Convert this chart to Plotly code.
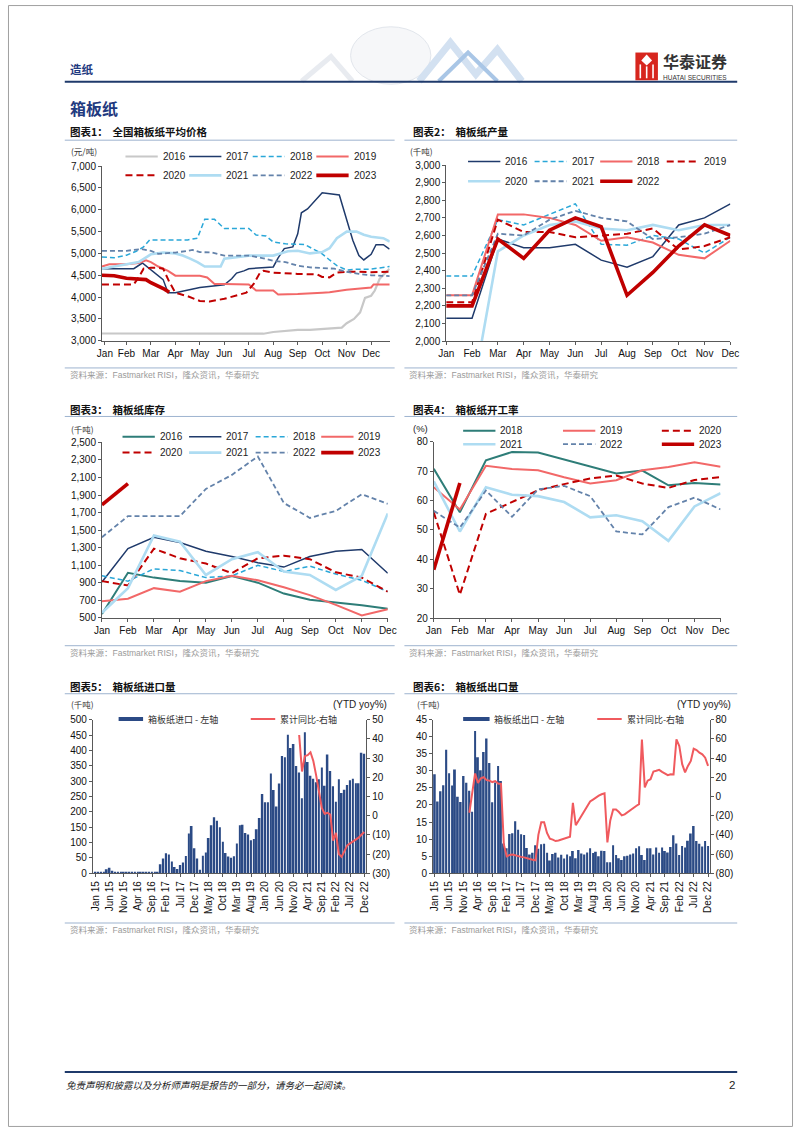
import plotly.graph_objects as go

W, H = 802, 1133
FONT = "Liberation Sans, Arial, Noto Sans CJK SC, sans-serif"
CJK = "Noto Sans CJK SC, Liberation Sans, sans-serif"

MONTHS = ["Jan", "Feb", "Mar", "Apr", "May", "Jun", "Jul", "Aug", "Sep", "Oct", "Nov", "Dec"]
MPOS = [0, 1, 2, 3, 4, 5, 6, 7, 8, 9, 10, 11]

# ---------------- Chart 1: price (RMB/t), x in months from Jan ----------------
c1_2016_x = [0, 1, 2, 3, 4, 5, 6, 6.6, 7, 7.5, 8, 8.5, 9, 9.5, 9.8, 10, 10.3, 10.55, 10.75, 11.0, 11.15, 11.35, 11.75]
c1_2016_y = [3165, 3165, 3170, 3175, 3175, 3170, 3170, 3160, 3200, 3230, 3250, 3250, 3270, 3280, 3300, 3400, 3500, 3650, 3980, 4030, 4150, 4420, 4650]
c1_2017_x = [0, 1, 1.3, 1.65, 2.0, 2.3, 2.5, 2.7, 3.0, 4.0, 5.0, 5.3, 5.5, 5.8, 6.0, 7.0, 7.2, 7.45, 7.8, 8.0, 8.15, 8.4, 8.75, 9.0, 9.7, 10.0, 10.25, 10.5, 10.7, 11.0, 11.2, 11.5, 11.75]
c1_2017_y = [4650, 4650, 4650, 4780, 4620, 4500, 4400, 4100, 4100, 4220, 4280, 4420, 4550, 4600, 4650, 4690, 4900, 5110, 5150, 5450, 5930, 6020, 6250, 6390, 6340, 5800, 5300, 4950, 4850, 4980, 5200, 5200, 5100]
c1_2018_x = [0, 0.5, 1.0, 1.4, 1.7, 1.95, 2.5, 3.0, 3.5, 3.9, 4.0, 4.2, 4.6, 5.0, 5.5, 6.0, 6.3, 6.7, 7.0, 7.5, 8.0, 8.3, 8.7, 9.0, 9.3, 9.6, 10.0, 10.5, 11.0, 11.5, 11.76]
c1_2018_y = [4920, 4900, 4960, 5050, 5150, 5310, 5310, 5310, 5310, 5350, 5500, 5780, 5780, 5570, 5570, 5570, 5420, 5400, 5260, 5220, 5210, 5200, 5080, 4990, 4850, 4720, 4620, 4640, 4640, 4680, 4700]
c1_2019_x = [0, 0.3, 1.0, 1.5, 1.8, 2.0, 2.3, 2.7, 3.0, 3.5, 4.0, 4.3, 4.6, 5.0, 6.0, 6.3, 7.0, 7.2, 8.0, 9.0, 9.3, 10.0, 11.0, 11.1, 11.76]
c1_2019_y = [4700, 4750, 4750, 4780, 4840, 4800, 4700, 4600, 4490, 4490, 4490, 4450, 4300, 4300, 4290, 4150, 4150, 4060, 4070, 4100, 4110, 4170, 4220, 4290, 4290]
c1_2020_x = [0, 1.3, 1.5, 1.7, 2.0, 2.3, 2.5, 2.75, 3.0, 3.5, 4.0, 4.4, 5.0, 5.4, 5.9, 6.2, 6.45, 6.6, 7.0, 8.0, 8.8, 9.0, 9.3, 9.6, 10.0, 10.5, 11.0, 11.76]
c1_2020_y = [4290, 4290, 4450, 4650, 4670, 4670, 4650, 4350, 4100, 4020, 3910, 3900, 3960, 4020, 4100, 4300, 4550, 4600, 4560, 4530, 4520, 4460, 4450, 4560, 4580, 4580, 4570, 4580]
c1_2021_x = [0, 0.5, 1.0, 1.5, 2.0, 2.5, 3.0, 3.3, 3.6, 3.9, 4.2, 4.6, 4.85, 5.0, 6.0, 7.0, 7.6, 8.0, 8.5, 9.0, 9.3, 9.6, 10.0, 10.4, 10.7, 11.0, 11.5, 11.76]
c1_2021_y = [4650, 4700, 4760, 4800, 4980, 5020, 5000, 4950, 4880, 4800, 4700, 4700, 4700, 4880, 4950, 4950, 5050, 5060, 5000, 5030, 5120, 5350, 5500, 5500, 5430, 5380, 5350, 5270]
c1_2022_x = [0, 1.0, 1.6, 2.0, 2.3, 3.0, 3.5, 3.7, 4.0, 4.5, 5.0, 6.0, 6.5, 7.0, 7.5, 8.0, 8.5, 9.0, 9.5, 10.0, 10.5, 11.0, 11.76]
c1_2022_y = [5060, 5060, 5100, 5060, 4990, 5020, 5060, 5080, 5030, 5020, 4950, 4950, 4900, 4830, 4800, 4720, 4680, 4670, 4650, 4580, 4530, 4500, 4480]
c1_2023_x = [0, 0.5, 1.0, 1.5, 1.8, 2.0, 2.3, 2.55, 2.75]
c1_2023_y = [4500, 4490, 4430, 4410, 4400, 4330, 4260, 4180, 4110]

# ---------------- Chart 2: output (kt) ----------------
c2_2016 = [2130, 2130, 2580, 2530, 2530, 2550, 2460, 2420, 2480, 2660, 2700, 2780]
c2_2017 = [2370, 2370, 2690, 2660, 2720, 2780, 2550, 2545, 2600, 2580, 2500, 2590]
c2_2018 = [2260, 2260, 2720, 2720, 2700, 2660, 2570, 2590, 2560, 2490, 2470, 2570]
c2_2019 = [2220, 2220, 2690, 2620, 2620, 2590, 2600, 2610, 2640, 2520, 2540, 2590]
c2_2020 = [1800, 1690, 2510, 2600, 2660, 2680, 2640, 2630, 2660, 2630, 2660, 2660]
c2_2021 = [2260, 2260, 2610, 2600, 2690, 2740, 2700, 2680, 2580, 2590, 2610, 2660]
c2_2022 = [2200, 2200, 2580, 2470, 2630, 2700, 2650, 2260, 2390, 2540, 2660, 2600]

# ---------------- Chart 3: inventory (kt) ----------------
c3_2016 = [545, 1015, 960, 921, 902, 978, 902, 778, 707, 677, 645, 605]
c3_2017 = [910, 1290, 1420, 1360, 1260, 1200, 1130, 1080, 1200, 1260, 1280, 1010]
c3_2018 = [980, 920, 1060, 1040, 960, 980, 1100, 1030, 1090, 1000, 930, 800]
c3_2019 = [690, 720, 840, 800, 920, 980, 930, 850, 760, 650, 530, 600]
c3_2020 = [920, 870, 1290, 1180, 1120, 1010, 1180, 1210, 1170, 1020, 960, 800]
c3_2021 = [560, 840, 1440, 1370, 990, 1170, 1250, 1030, 990, 820, 980, 1690]
c3_2022 = [1420, 1660, 1660, 1660, 1970, 2130, 2340, 1810, 1640, 1720, 1910, 1800]
c3_2023 = [1790, 2030]

# ---------------- Chart 4: operating rate (%) ----------------
c4_2018 = [70.8, 56, 73.7, 76.5, 76.3, 74, 71.5, 69.2, 70.2, 65.2, 66, 65.5]
c4_2019 = [64.5, 57, 71.8, 70.7, 70.3, 67.9, 65.8, 66.9, 70.3, 71.4, 73, 71.5]
c4_2020 = [56, 28, 55.5, 59.6, 63.5, 65.6, 67.5, 68.5, 65.8, 64.3, 67, 68]
c4_2021 = [66.5, 49.5, 64.5, 62, 61.5, 59.5, 54.3, 55, 53, 46.3, 58, 62.5]
c4_2022 = [56.5, 50.8, 63.4, 54.5, 63.8, 65, 61.5, 49.5, 48.5, 57.8, 61, 57]
c4_2023 = [36.5, 66]

# ---------------- Chart 5 / 6: monthly Jan 15 - Dec 22 ----------------
TRADE_TICK_POS = [0, 5, 10, 15, 20, 25, 30, 35, 40, 45, 50, 55, 60, 65, 70, 75, 80, 85, 90, 95]
TRADE_TICKS = ["Jan 15", "Jun 15", "Nov 15", "Apr 16", "Sep 16", "Feb 17", "Jul 17", "Dec 17",
               "May 18", "Oct 18", "Mar 19", "Aug 19", "Jan 20", "Jun 20", "Nov 20", "Apr 21",
               "Sep 21", "Feb 22", "Jul 22", "Dec 22"]

imports_kt = [
    3, 3, 5, 5, 13, 18, 8, 5, 3, 5, 3, 5,
    3, 5, 3, 5, 3, 4, 5, 4, 4, 5, 3, 29,
    48, 65, 61, 38, 20, 14, 27, 35, 56, 129, 154, 81,
    48, 11, 57, 67, 115, 156, 182, 171, 150, 102, 66, 54,
    50, 55, 97, 156, 158, 131, 126, 107, 111, 143, 180, 258,
    231, 231, 325, 271, 217, 292, 382, 378, 451, 408, 421, 349,
    328, 244, 459, 362, 317, 308, 296, 306, 344, 285, 387, 333,
    283, 233, 306, 261, 272, 287, 303, 308, 293, 293, 392, 389]
imports_yoy = [None] * 72 + [
    42, 23, 31, 31.5, 33, 28.5, 21, 13, 4, 1, 1.5, 0.5,
    -13, -9, -20, -21.5, -18.5, -15.5, -14.5, -13.5, -12.5, -11.5, -10, -8.5]

exports_kt = [
    29, 21, 24, 25.8, 36.2, 29.3, 25.7, 30.4, 22.4, 20.9, 28.5, 26.5,
    24.2, 18, 41.7, 34, 30.2, 35.5, 39.5, 32.3, 20.8, 26.6, 31.4, 27,
    8.7, 7.3, 11.5, 11.7, 15.2, 12.7, 11.4, 11.2, 7.4, 5.5, 6.0, 8.2,
    7.2, 8.5, 8.6, 6.0, 3.7, 5.6, 6.0, 4.6, 5.4, 4.3, 5.5, 5.0,
    6.5, 4.4, 6.8, 5.8, 5.5, 6.1, 7.3, 5.9, 6.3, 5.0, 6.6, 6.5,
    3.2, 3.2, 8.2, 5.3, 4.4, 3.9, 5.0, 5.1, 5.5, 5.8, 7.3, 7.9,
    5.3, 3.9, 7.3, 7.3, 5.5, 7.5, 6.0, 7.5, 6.5, 6.1, 7.7, 11.1,
    8.7, 5.3, 8.0, 7.5, 9.5, 11.6, 13.8, 9.4, 8.6, 7.8, 9.4, 8.0]
exports_yoy = [None] * 12 + [
    -17, 5, 24, 14, 19, 20, 17, 16.5, 15, 16, 13.5, 13,
    -50, -62.5, -61, -60.5, -61.5, -62.5, -63, -63.5, -64.5, -65.5, -66, -66.5,
    -40, -27, -27, -38, -44, -45, -46.5, -46, -45, -43.5, -43, -42,
    -6.7, -30, -25, -20, -14.6, -10, -5.3, -3.3, -0.8, 0.9, 2.3, 3.3,
    -48, -25, -13.6, -13.6, -16.3, -19.8, -18.7, -16.3, -14.6, -12.2, -10, -8,
    59.4, 9.5, 16.4, 18, 26, 26.7, 27.7, 25.6, 24, 22.2, 23.2, 23,
    59.4, 52.5, 33.6, 25, 31.8, 37, 49.7, 48.4, 45.6, 43.9, 40.4, 31.8]
MONTH_IDX = list(range(len(imports_kt)))

# ---------------- styles ----------------
NAVY = "#1F3A6B"
CYAN = "#2AA7D8"
SALMON = "#F26868"
DRED = "#C00000"
LBLUE = "#AEDCF2"
GBLUE = "#6382AA"
GRAY = "#C8C8C8"
TEAL = "#2E7D78"
DASH = "5px,3px"
RDASH = "7px,4px"

S = {
    "gray": (GRAY, 2.2, None), "navy": (NAVY, 1.5, None), "cyan": (CYAN, 1.5, DASH),
    "salmon": (SALMON, 2.0, None), "rdash": (DRED, 2.0, RDASH), "lblue": (LBLUE, 2.6, None),
    "gdash": (GBLUE, 1.8, DASH), "red": (DRED, 3.6, None), "teal": (TEAL, 2.0, None),
}


def px(x):
    return x / W


def py(y):
    return 1 - y / H


fig = go.Figure()
shapes = []
annots = []


def line_trace(x, y, xa, ya, style):
    c, w, d = S[style]
    fig.add_trace(go.Scatter(x=x, y=y, xaxis=xa, yaxis=ya, mode="lines",
                             line=dict(color=c, width=w, dash=d), showlegend=False,
                             hoverinfo="skip", connectgaps=False))


def txt(x, y, s, size=10, color="#222", anchor="left", family=FONT, yanchor="middle"):
    annots.append(dict(x=px(x), y=py(y), xref="paper", yref="paper", text=s, showarrow=False,
                       xanchor=anchor, yanchor=yanchor, font=dict(size=size, color=color, family=family),
                       borderpad=0))


def seg(x0, y0, x1, y1, color, width=1, dash=None):
    ln = dict(color=color, width=width)
    if dash:
        ln["dash"] = dash
    shapes.append(dict(type="line", xref="paper", yref="paper", x0=px(x0), y0=py(y0),
                       x1=px(x1), y1=py(y1), line=ln))


def rect(x0, y0, x1, y1, fill, line_color=None, lw=0):
    shapes.append(dict(type="rect", xref="paper", yref="paper", x0=px(x0), y0=py(y0),
                       x1=px(x1), y1=py(y1), fillcolor=fill,
                       line=dict(color=line_color or fill, width=lw)))


def legend_item(x, y, style, label, length=33):
    c, w, d = S[style]
    seg(x, y, x + length, y, c, w, d)
    txt(x + length + 4, y, label, size=10, color="#222")


# ---------------- traces ----------------
line_trace(c1_2016_x, c1_2016_y, "x", "y", "gray")
line_trace(c1_2017_x, c1_2017_y, "x", "y", "navy")
line_trace(c1_2018_x, c1_2018_y, "x", "y", "cyan")
line_trace(c1_2019_x, c1_2019_y, "x", "y", "salmon")
line_trace(c1_2020_x, c1_2020_y, "x", "y", "rdash")
line_trace(c1_2021_x, c1_2021_y, "x", "y", "lblue")
line_trace(c1_2022_x, c1_2022_y, "x", "y", "gdash")
line_trace(c1_2023_x, c1_2023_y, "x", "y", "red")

line_trace(MPOS, c2_2016, "x2", "y2", "navy")
line_trace(MPOS, c2_2017, "x2", "y2", "cyan")
line_trace(MPOS, c2_2018, "x2", "y2", "salmon")
line_trace(MPOS, c2_2019, "x2", "y2", "rdash")
line_trace(MPOS, c2_2020, "x2", "y2", "lblue")
line_trace(MPOS, c2_2021, "x2", "y2", "gdash")
line_trace(MPOS, c2_2022, "x2", "y2", "red")

line_trace(MPOS, c3_2016, "x3", "y3", "teal")
line_trace(MPOS, c3_2017, "x3", "y3", "navy")
line_trace(MPOS, c3_2018, "x3", "y3", "cyan")
line_trace(MPOS, c3_2019, "x3", "y3", "salmon")
line_trace(MPOS, c3_2020, "x3", "y3", "rdash")
line_trace(MPOS, c3_2021, "x3", "y3", "lblue")
line_trace(MPOS, c3_2022, "x3", "y3", "gdash")
line_trace(MPOS[:len(c3_2023)], c3_2023, "x3", "y3", "red")

line_trace(MPOS, c4_2018, "x4", "y4", "teal")
line_trace(MPOS, c4_2019, "x4", "y4", "salmon")
line_trace(MPOS, c4_2020, "x4", "y4", "rdash")
line_trace(MPOS, c4_2021, "x4", "y4", "lblue")
line_trace(MPOS, c4_2022, "x4", "y4", "gdash")
line_trace(MPOS[:len(c4_2023)], c4_2023, "x4", "y4", "red")

BAR = "#2B4A85"
YOY = "#F05A5E"
fig.add_trace(go.Bar(x=MONTH_IDX, y=imports_kt, xaxis="x5", yaxis="y5", marker=dict(color=BAR, line=dict(width=0)),
                     showlegend=False, hoverinfo="skip"))
fig.add_trace(go.Scatter(x=MONTH_IDX, y=imports_yoy, xaxis="x5", yaxis="y7", mode="lines",
                         line=dict(color=YOY, width=2), showlegend=False, hoverinfo="skip"))
fig.add_trace(go.Bar(x=MONTH_IDX, y=exports_kt, xaxis="x6", yaxis="y6", marker=dict(color=BAR, line=dict(width=0)),
                     showlegend=False, hoverinfo="skip"))
fig.add_trace(go.Scatter(x=MONTH_IDX, y=exports_yoy, xaxis="x6", yaxis="y8", mode="lines",
                         line=dict(color=YOY, width=2), showlegend=False, hoverinfo="skip"))


# ---------------- axes ----------------
def ax(**kw):
    d = dict(showgrid=False, zeroline=False, showline=True, linecolor="#595959", linewidth=1,
             ticks="outside", ticklen=3, tickcolor="#595959",
             tickfont=dict(family=FONT, size=10, color="#111"), fixedrange=True)
    d.update(kw)
    return d


def xdom(a, b):
    return [px(a), px(b)]


def ydom(top, bottom):
    return [py(bottom), py(top)]


layout_axes = dict(
    xaxis=ax(domain=xdom(96, 390), anchor="y", range=[0, 11.76],
             tickvals=[0.12] + MPOS[1:], ticktext=MONTHS),
    yaxis=ax(domain=ydom(162.7, 339), anchor="x", range=[3000, 7000], tick0=3000, dtick=500, tickformat=","),
    xaxis2=ax(domain=xdom(447.7, 738), anchor="y2", range=[0, 11], tickvals=MPOS, ticktext=MONTHS),
    yaxis2=ax(domain=ydom(161.7, 339.3), anchor="x2", range=[2000, 3000], tick0=2000, dtick=100, tickformat=","),
    xaxis3=ax(domain=xdom(96, 388), anchor="y3", range=[0, 11], tickvals=MPOS, ticktext=MONTHS),
    yaxis3=ax(domain=ydom(441.7, 619), anchor="x3", range=[500, 2500], tick0=500, dtick=200, tickformat=","),
    xaxis4=ax(domain=xdom(435, 728), anchor="y4", range=[0, 11], tickvals=MPOS, ticktext=MONTHS),
    yaxis4=ax(domain=ydom(441, 619.3), anchor="x4", range=[20, 80], tick0=20, dtick=10),
    xaxis5=ax(domain=xdom(86.7, 366), anchor="y5", range=[-0.9, 95.7], tickvals=TRADE_TICK_POS,
              ticktext=TRADE_TICKS, tickangle=-90),
    yaxis5=ax(domain=ydom(721.7, 876.7), anchor="x5", range=[0, 500], tick0=0, dtick=50),
    yaxis7=ax(anchor="x5", overlaying="y5", side="right", range=[-30, 50],
              tickvals=[-30, -20, -10, 0, 10, 20, 30, 40, 50],
              ticktext=["(30)", "(20)", "(10)", "0", "10", "20", "30", "40", "50"]),
    xaxis6=ax(domain=xdom(434.3, 716.7), anchor="y6", range=[-0.6, 95.5], tickvals=TRADE_TICK_POS,
              ticktext=TRADE_TICKS, tickangle=-90),
    yaxis6=ax(domain=ydom(721.7, 876.7), anchor="x6", range=[0, 45], tick0=0, dtick=5),
    yaxis8=ax(anchor="x6", overlaying="y6", side="right", range=[-80, 80],
              tickvals=[-80, -60, -40, -20, 0, 20, 40, 60, 80],
              ticktext=["(80)", "(60)", "(40)", "(20)", "0", "20", "40", "60", "80"]),
)

# ---------------- page furniture ----------------
HEAD = "#1F3A80"
RULE = "#9DB3CF"
SRC = "#9A9A9A"

# page border
shapes.append(dict(type="rect", xref="paper", yref="paper", x0=0.0006, y0=0.0005, x1=0.9994, y1=0.9995,
                   line=dict(color="#A0A0A0", width=1), fillcolor="rgba(0,0,0,0)"))

# header decoration (globe and chevrons)
shapes.append(dict(type="circle", xref="paper", yref="paper", x0=px(350), y0=py(80), x1=px(432), y1=py(22),
                   line=dict(color="#E2E6EC", width=1), fillcolor="rgba(242,244,247,0.7)", layer="below"))
shapes.append(dict(type="path", xref="paper", yref="paper", layer="below",
                   path="M %f,%f L %f,%f L %f,%f" % (px(300), py(77), px(330), py(52), px(352), py(77)),
                   line=dict(color="#E8EBF0", width=5)))
shapes.append(dict(type="path", xref="paper", yref="paper", layer="below",
                   path="M %f,%f L %f,%f L %f,%f L %f,%f L %f,%f" % (px(420), py(77), px(452), py(38), px(478), py(70),
                                                                      px(500), py(45), px(525), py(77)),
                   line=dict(color="#D3E1F1", width=7)))
shapes.append(dict(type="path", xref="paper", yref="paper", layer="below",
                   path="M %f,%f L %f,%f L %f,%f" % (px(440), py(77), px(470), py(48), px(500), py(77)),
                   line=dict(color="#A9C6E6", width=4)))

txt(62, 65, "<b>造纸</b>", size=11.5, color=HEAD, family=CJK)
seg(58, 77.5, 745, 77.5, "#1F3A6B", 2)

# logo
rect(641, 48, 664, 76, "#D7261E")
seg(646, 60, 646, 74, "#FFFFFF", 1.6)
seg(652.5, 62, 652.5, 74, "#FFFFFF", 1.6)
seg(659, 60, 659, 74, "#FFFFFF", 1.6)
shapes.append(dict(type="path", xref="paper", yref="paper",
                   path="M %f,%f L %f,%f L %f,%f L %f,%f Z" % (px(652.5), py(50), px(658), py(56), px(652.5), py(61), px(647), py(56)),
                   fillcolor="#FFFFFF", line=dict(color="#FFFFFF", width=0)))
txt(668, 56.5, "<b>华泰证券</b>", size=16, color="#333333", family=CJK)
txt(668, 73.5, "HUATAI SECURITIES", size=6.5, color="#333333")

txt(62, 104, "<b>箱板纸</b>", size=16, color=HEAD, family=CJK)

# chart titles and rules
titles = [(62, 128, "图表1：  全国箱板纸平均价格", 58, 395, 136.5),
          (413, 128, "图表2：  箱板纸产量", 405, 745, 136.5),
          (62, 408, "图表3：  箱板纸库存", 58, 395, 415.5),
          (413, 408, "图表4：  箱板纸开工率", 405, 745, 415.5),
          (62, 688, "图表5：  箱板纸进口量", 58, 395, 695.5),
          (413, 688, "图表6：  箱板纸出口量", 405, 745, 695.5)]
for x, y, s, r0, r1, ry in titles:
    txt(x, y, "<b>" + s + "</b>", size=10.5, color="#111", family=CJK)
    seg(r0, ry, r1, ry, RULE, 1)

# sources
SOURCE = "资料来源：Fastmarket RISI，隆众资讯，华泰研究"
for (x0, x1, ly, ty) in [(58, 395, 366.5, 374), (405, 745, 366.5, 374),
                          (58, 395, 647, 654), (405, 745, 647, 654),
                          (58, 395, 927, 934), (405, 745, 927, 934)]:
    seg(x0, ly, x1, ly, RULE, 1)
    txt(x0 + 4, ty, SOURCE, size=8.5, color=SRC)

# units
txt(63, 147, "(元/吨)", size=8.5, color="#333", family=CJK)
txt(410, 147, "(千吨)", size=8.5, color="#333", family=CJK)
txt(63, 428, "(千吨)", size=8.5, color="#333", family=CJK)
txt(413, 428, "(%)", size=9.5, color="#222")
txt(63, 706, "(千吨)", size=8.5, color="#333", family=CJK)
txt(388, 706, "(YTD yoy%)", size=10, color="#222", anchor="right")
txt(417, 706, "(千吨)", size=8.5, color="#333", family=CJK)
txt(740, 706, "(YTD yoy%)", size=10, color="#222", anchor="right")

# legends chart 1
for (x, y, st, lb) in [(120, 153, "gray", "2016"), (185, 153, "navy", "2017"), (250, 153, "cyan", "2018"),
                       (315, 153, "salmon", "2019"), (120, 172, "rdash", "2020"), (185, 172, "lblue", "2021"),
                       (250, 172, "gdash", "2022"), (315, 172, "red", "2023")]:
    legend_item(x, y, st, lb)
# legends chart 2
for (x, y, st, lb) in [(470, 158, "navy", "2016"), (538, 158, "cyan", "2017"), (605, 158, "salmon", "2018"),
                       (673, 158, "rdash", "2019"), (470, 178, "lblue", "2020"), (538, 178, "gdash", "2021"),
                       (605, 178, "red", "2022")]:
    legend_item(x, y, st, lb)
# legends chart 3
for (x, y, st, lb) in [(117, 436, "teal", "2016"), (185, 436, "navy", "2017"), (253, 436, "cyan", "2018"),
                       (320, 436, "salmon", "2019"), (117, 452, "rdash", "2020"), (185, 452, "lblue", "2021"),
                       (253, 452, "gdash", "2022"), (320, 452, "red", "2023")]:
    legend_item(x, y, st, lb)
# legends chart 4
for (x, y, st, lb) in [(465, 430, "teal", "2018"), (567, 430, "salmon", "2019"), (668, 430, "rdash", "2020"),
                       (465, 443.5, "lblue", "2021"), (567, 443.5, "gdash", "2022"), (668, 443.5, "red", "2023")]:
    legend_item(x, y, st, lb)
# legends chart 5 / 6
rect(113, 719, 138, 723, BAR)
txt(142, 721, "箱板纸进口 - 左轴", size=9, color="#333", family=CJK)
seg(248, 721, 273, 721, YOY, 2)
txt(277, 721, "累计同比-右轴", size=9, color="#333", family=CJK)
rect(465, 719, 492, 723, BAR)
txt(495, 721, "箱板纸出口 - 左轴", size=9, color="#333", family=CJK)
seg(602, 721, 627, 721, YOY, 2)
txt(631, 721, "累计同比-右轴", size=9, color="#333", family=CJK)

# footer
seg(58, 1077.5, 745, 1077.5, "#1F3A6B", 2)
txt(58, 1091, "<i>免责声明和披露以及分析师声明是报告的一部分，请务必一起阅读。</i>", size=9.5, color="#222", family=CJK)
txt(744, 1091, "2", size=11.5, color="#222", anchor="right")

fig.update_layout(
    width=W, height=H, margin=dict(l=0, r=0, t=0, b=0, pad=0),
    paper_bgcolor="white", plot_bgcolor="white", bargap=0.38,
    shapes=shapes, annotations=annots, showlegend=False,
    font=dict(family=FONT, size=10, color="#222"),
    **layout_axes,
)

fig.write_html("out.html", config={"displayModeBar": False},
               post_script="document.body.style.margin='0px';document.body.style.overflow='hidden';")
